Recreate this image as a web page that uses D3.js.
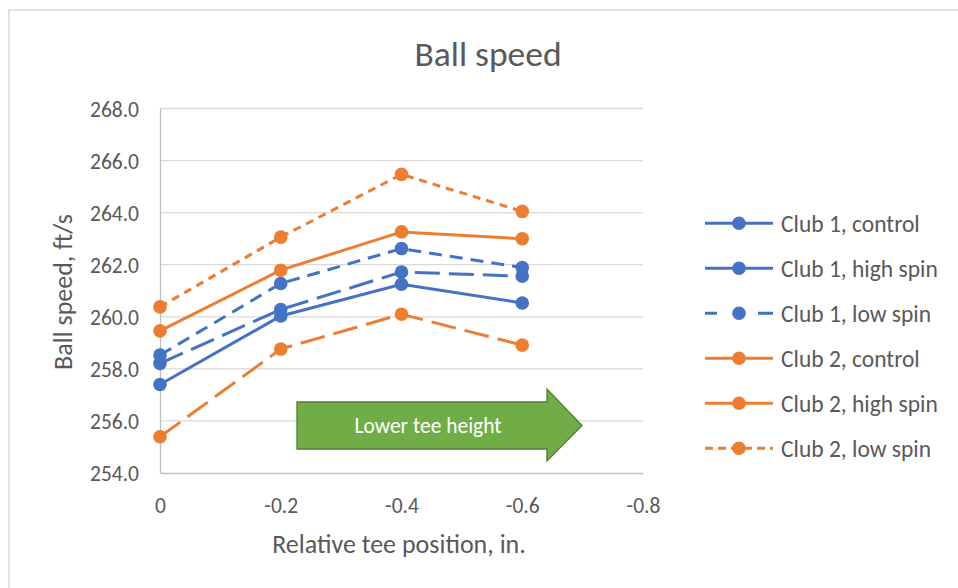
<!DOCTYPE html>
<html><head><meta charset="utf-8">
<script src="https://cdn.jsdelivr.net/npm/d3@7"></script>
<style>
html,body{margin:0;padding:0;background:#fff;}
svg text{font-family:Calibri,Carlito,Lato,"Open Sans",sans-serif;}
</style></head>
<body><svg id="c" width="958" height="588"></svg>
<script>
const xValues = [0, -0.2, -0.4, -0.6];
const xTicks = [0, -0.2, -0.4, -0.6, -0.8];
const yTicks = [254, 256, 258, 260, 262, 264, 266, 268];
const seriesNames = ["Club 1, control","Club 1, high spin","Club 1, low spin","Club 2, control","Club 2, high spin","Club 2, low spin"];
const club1Control = [257.40, 260.03, 261.25, 260.53];
const club1High    = [258.21, 260.28, 261.72, 261.56];
const club1Low     = [258.53, 261.28, 262.62, 261.89];
const club2Control = [259.46, 261.79, 263.26, 263.00];
const club2High    = [255.39, 258.76, 260.10, 258.91];
const club2Low     = [260.38, 263.06, 265.47, 264.05];
const seriesValues = [club1Control, club1High, club1Low, club2Control, club2High, club2Low];
const seriesColors = ["#4472C4","#4472C4","#4472C4","#ED7D31","#ED7D31","#ED7D31"];
const seriesDash = [null, "25,9", "13,8", null, "25,9", "8,6"];
const legendDash = [null, null, "12,41,16,100", null, null, "8,5"];
const arrowLabel = "Lower tee height";

const svg = d3.select("#c");
// outer chart border
svg.append("rect").attr("x",9).attr("y",10).attr("width",1000).attr("height",1000)
  .attr("fill","#fff").attr("stroke","#d9d9d9").attr("stroke-width",1.5);

const x = d3.scaleLinear().domain([0,-0.8]).range([160,643]);
const y = d3.scaleLinear().domain([254,268]).range([473,108.5]);

// gridlines
svg.append("g").selectAll("line").data(yTicks.slice(1)).join("line")
  .attr("x1",160).attr("x2",643).attr("y1",d=>y(d)).attr("y2",d=>y(d))
  .attr("stroke","#d9d9d9").attr("stroke-width",1.3);

// axes
const yAxis = svg.append("g").attr("transform","translate(160,0)")
  .call(d3.axisLeft(y).tickValues(yTicks).tickFormat(d=>d.toFixed(1)).tickSize(0).tickPadding(21));
yAxis.select(".domain").attr("stroke","#bfbfbf").attr("stroke-width",1.3);
yAxis.selectAll("text").attr("fill","#595959").style("font-size","21.5px").attr("dy","0.36em");

const xAxis = svg.append("g").attr("transform","translate(0,473)")
  .call(d3.axisBottom(x).tickValues(xTicks).tickFormat(d=>d===0?"0":d.toFixed(1)).tickSize(0));
xAxis.select(".domain").attr("stroke","#bfbfbf").attr("stroke-width",1.3);
xAxis.selectAll("text").attr("fill","#595959").style("font-size","21.5px").attr("y",40).attr("dy",0);

// title & axis titles
svg.append("text").attr("x",488).attr("y",66).attr("text-anchor","middle")
  .attr("fill","#595959").style("font-size","35.5px").text("Ball speed");
svg.append("text").attr("transform","translate(72,292) rotate(-90)").attr("text-anchor","middle")
  .attr("fill","#595959").style("font-size","26px").text("Ball speed, ft/s");
svg.append("text").attr("x",399).attr("y",553).attr("text-anchor","middle")
  .attr("fill","#595959").style("font-size","26px").text("Relative tee position, in.");

// arrow shape
const ax0=297, ax1=547, ay0=402, ay1=449, hx=582, hy0=389, hy1=461, ym=(ay0+ay1)/2;
svg.append("path")
  .attr("d",`M${ax0},${ay0}L${ax1},${ay0}L${ax1},${hy0}L${hx},${ym}L${ax1},${hy1}L${ax1},${ay1}L${ax0},${ay1}Z`)
  .attr("fill","#70AD47").attr("stroke","#507E32").attr("stroke-width",1.3);
svg.append("text").attr("x",428).attr("y",ym).attr("dy","0.35em").attr("text-anchor","middle")
  .attr("fill","#fff").style("font-size","21.5px").text(arrowLabel);

// series
const line = d3.line().x((d,i)=>x(xValues[i])).y(d=>y(d));
seriesValues.forEach((vals,k)=>{
  const g = svg.append("g");
  g.append("path").datum(vals).attr("d",line).attr("fill","none")
    .attr("stroke",seriesColors[k]).attr("stroke-width",3)
    .attr("stroke-dasharray",seriesDash[k]);
  g.selectAll("circle").data(vals).join("circle")
    .attr("cx",(d,i)=>x(xValues[i])).attr("cy",d=>y(d)).attr("r",6.8)
    .attr("fill",seriesColors[k]);
});

// legend
const lg = svg.append("g");
seriesNames.forEach((name,k)=>{
  const ly = 223.3 + k*45;
  lg.append("line").attr("x1",705).attr("x2",773).attr("y1",ly).attr("y2",ly)
    .attr("stroke",seriesColors[k]).attr("stroke-width",3)
    .attr("stroke-dasharray",legendDash[k]);
  lg.append("circle").attr("cx",739).attr("cy",ly).attr("r",6.8).attr("fill",seriesColors[k]);
  lg.append("text").attr("x",781).attr("y",ly).attr("dy","0.35em")
    .attr("fill","#595959").style("font-size","23.5px").text(name);
});
</script></body></html>
